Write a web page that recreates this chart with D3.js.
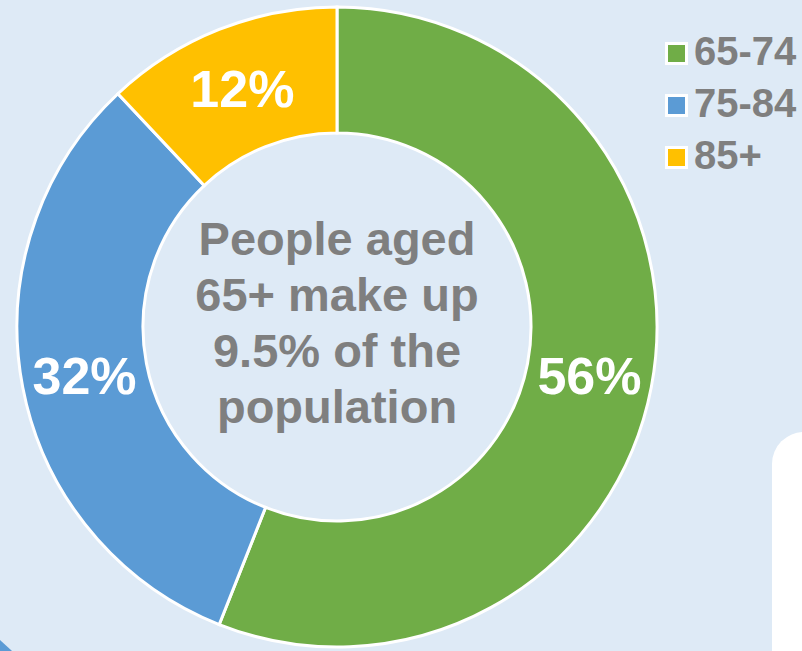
<!DOCTYPE html>
<html>
<head>
<meta charset="utf-8">
<script src="https://cdn.jsdelivr.net/npm/d3@7"></script>
<style>
	body { margin: 0; background: #deeaf6; overflow: hidden; }
	svg { display: block; font-family: "Liberation Sans", Arial, sans-serif; font-weight: bold; }
</style>
</head>
<body>
<svg id="chart"></svg>
<script>
// age groups of people 65+
var categories = ['65-74', '75-84', '85+'];
var shares = [56, 32, 12];
var colors = ['#70ad47', '#5b9bd5', '#ffc000'];
var centerLines = ['People aged', '65+ make up', '9.5% of the', 'population'];

var w = 802,
	h = 651,
	cx = 337,
	cy = 327,
	outer = 320,
	inner = 194;

var svg = d3.select('#chart')
			.attr('width', w)
			.attr('height', h);

// white card peeking in at the bottom right, blue corner at bottom left
svg.append('rect')
   .attr('x', 772).attr('y', 432)
   .attr('width', 80).attr('height', 260)
   .attr('rx', 32)
   .attr('fill', '#ffffff');

svg.append('path')
   .attr('d', 'M0,640L12,651L0,651Z')
   .attr('fill', '#5b9bd5');

var pie = d3.pie().sort(null).value(function(d) { return d; });
var arc = d3.arc().innerRadius(inner).outerRadius(outer);

var g = svg.append('g').attr('transform', 'translate(' + cx + ',' + cy + ')');

g.selectAll('path')
 .data(pie(shares))
 .enter()
 .append('path')
 .attr('d', arc)
 .attr('fill', function(d, i) { return colors[i]; })
 .attr('stroke', '#ffffff')
 .attr('stroke-width', 3);

g.selectAll('text.pct')
 .data(pie(shares))
 .enter()
 .append('text')
 .attr('class', 'pct')
 .attr('transform', function(d) { return 'translate(' + arc.centroid(d) + ')'; })
 .attr('text-anchor', 'middle')
 .attr('dy', '0.36em')
 .attr('font-size', '52px')
 .attr('fill', '#ffffff')
 .text(function(d) { return d.data + '%'; });

g.selectAll('text.center')
 .data(centerLines)
 .enter()
 .append('text')
 .attr('class', 'center')
 .attr('text-anchor', 'middle')
 .attr('x', 0)
 .attr('y', function(d, i) { return -72 + i * 56; })
 .attr('font-size', '47px')
 .attr('fill', '#7f7f7f')
 .text(function(d) { return d; });

// legend
var legend = svg.selectAll('g.item')
				.data(categories)
				.enter()
				.append('g')
				.attr('class', 'item')
				.attr('transform', function(d, i) { return 'translate(665,' + (42 + i * 52) + ')'; });

legend.append('rect')
	  .attr('x', 1.5).attr('y', 1.5)
	  .attr('width', 20).attr('height', 20)
	  .attr('fill', function(d, i) { return colors[i]; })
	  .attr('stroke', '#ffffff')
	  .attr('stroke-width', 3);

legend.append('text')
	  .attr('x', 29)
	  .attr('y', 23)
	  .attr('font-size', '40px')
	  .attr('fill', '#7f7f7f')
	  .text(function(d) { return d; });
</script>
</body>
</html>
